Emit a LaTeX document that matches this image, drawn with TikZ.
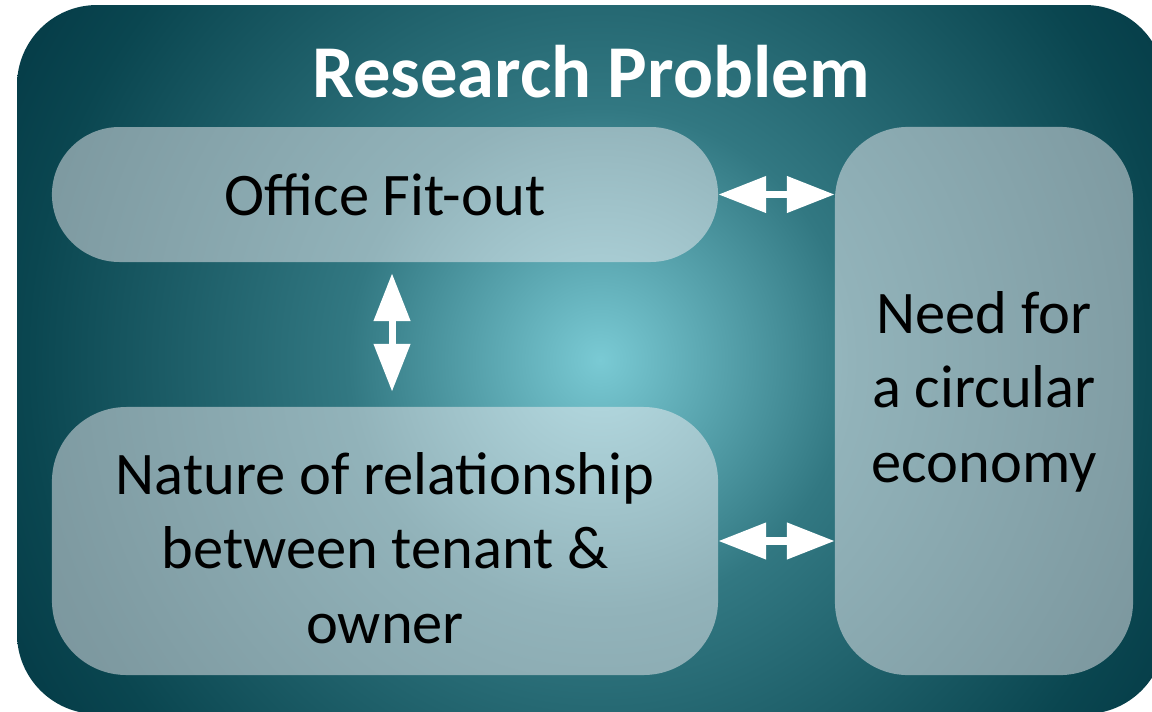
\documentclass[tikz,border=0pt]{standalone}
\usepackage{fontspec}
\setmainfont{Carlito}
\usetikzlibrary{arrows.meta,positioning}

\definecolor{tealdark}{RGB}{3,56,68}
\definecolor{tealedge}{RGB}{10,70,80}
\definecolor{tealmid}{RGB}{50,120,130}
\definecolor{tealglow}{RGB}{122,202,212}
\definecolor{paneltint}{RGB}{242,238,242}

% glow of the backing panel, bright in the middle
\pgfdeclareradialshading{panelglow}{\pgfpoint{0bp}{0bp}}{%
  color(0bp)=(tealglow); color(9bp)=(tealmid); color(20.5bp)=(tealedge);
  color(25bp)=(tealdark); color(50bp)=(tealdark)}

\tikzset{
  topicbox/.style={draw=none, fill=paneltint, fill opacity=0.5, text opacity=1,
    inner sep=0pt, align=center, text=black,
    font=\fontsize{43}{53}\selectfont},
  linkarrow/.style={{Triangle[length=34pt,width=25pt]}-{Triangle[length=34pt,width=25pt]},
    line width=5pt, white}
}

\begin{document}
\begin{tikzpicture}[x=0.025cm, y=-0.025cm]
    \useasboundingbox (0,0) rectangle (1152,711);
    % Backing panel
    \begin{scope}
        \clip[rounded corners=57pt] (17,5) rectangle (1165,714);
        \shade[shading=panelglow] (600,360) circle (17.5cm);
    \end{scope}
    \node[anchor=base, text=white, font=\bfseries\fontsize{53}{60}\selectfont] (title) at (591,97) {Research Problem};
    % The three topics
    \node[topicbox, minimum width=473.7pt, minimum height=96pt, rounded corners=48pt] (office) at (385,194.5) {Office Fit-out};
    \node[topicbox, minimum width=473.7pt, minimum height=190.6pt, rounded corners=53pt, text height=146pt] (nature) at (385,541) {Nature of relationship\\between tenant \&\\owner};
    \node[topicbox, minimum width=212pt, minimum height=389.8pt, rounded corners=52pt, text depth=20pt] (need) at (984,401) {Need for\\a circular\\economy};
    % Links between them
    \draw[linkarrow] (office.east) -- (office.east -| need.west);
    \draw[linkarrow] (nature.east) -- (nature.east -| need.west);
    \draw[linkarrow, shorten <=7.8pt, shorten >=10.7pt] ([xshift=5pt]office.south) -- ([xshift=5pt]office.south |- nature.north);
\end{tikzpicture}
\end{document}
